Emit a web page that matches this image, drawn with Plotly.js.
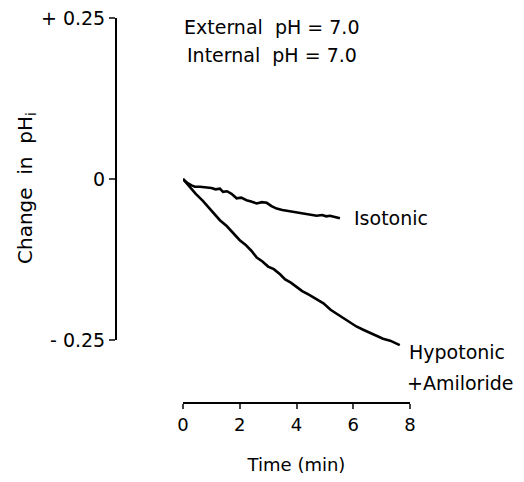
<!DOCTYPE html>
<html>
<head>
<meta charset="utf-8">
<script src="https://cdn.plot.ly/plotly-3.0.1.min.js"></script>
<style>html,body{margin:0;padding:0;background:#fff;}#chart{width:524px;height:482px;}</style>
</head>
<body>
<div id="chart"></div>
<script>
// Time (min) and change in pHi for each trace
const isoTime = [0, 0.15, 0.3, 0.42, 0.6, 0.8, 1.0, 1.15, 1.3, 1.41, 1.55, 1.71, 1.89, 2.05, 2.24, 2.4, 2.6, 2.78, 2.95, 3.12, 3.3, 3.5, 3.77, 4.0, 4.24, 4.45, 4.71, 4.9, 5.05, 5.18, 5.35, 5.53];
const isoChange = [0, -0.006, -0.010, -0.012, -0.012, -0.013, -0.014, -0.016, -0.015, -0.020, -0.019, -0.023, -0.030, -0.029, -0.033, -0.035, -0.038, -0.036, -0.037, -0.042, -0.046, -0.048, -0.050, -0.052, -0.054, -0.055, -0.057, -0.056, -0.058, -0.057, -0.059, -0.061];

const hypoTime = [0, 0.2, 0.45, 0.7, 0.9, 1.06, 1.3, 1.54, 1.75, 2.0, 2.2, 2.4, 2.6, 2.8, 3.0, 3.2, 3.42, 3.6, 3.8, 4.0, 4.2, 4.45, 4.71, 4.95, 5.2, 5.41, 5.65, 5.9, 6.11, 6.35, 6.6, 6.82, 7.05, 7.3, 7.5, 7.64];
const hypoChange = [0, -0.011, -0.023, -0.034, -0.044, -0.052, -0.064, -0.073, -0.083, -0.095, -0.102, -0.111, -0.122, -0.128, -0.136, -0.140, -0.148, -0.156, -0.161, -0.168, -0.174, -0.180, -0.187, -0.193, -0.203, -0.209, -0.215, -0.223, -0.229, -0.234, -0.239, -0.244, -0.248, -0.251, -0.255, -0.258];

const xTicks = [0, 2, 4, 6, 8];
const yTickVals = [-0.25, 0, 0.25];
const yTickText = ['- 0.25', '0', '+ 0.25'];

const W = 524, H = 482;
const px = v => v / W;
const py = v => 1 - v / H;

// visible y axis spans pixel rows 18..340 for +0.25..-0.25
const yTop = 18, yBot = 340;
const perPx = 0.5 / (yBot - yTop);
const dataTopPx = 0, dataBotPx = 420;
const dataRange = [-0.25 - (dataBotPx - yBot) * perPx, 0.25 + (yTop - dataTopPx) * perPx];

const font = 'DejaVu Sans, sans-serif';
const line = {color: '#000', width: 2.6};

const traces = [
  {x: isoTime, y: isoChange, mode: 'lines', line: line, xaxis: 'x', yaxis: 'y', hoverinfo: 'skip'},
  {x: hypoTime, y: hypoChange, mode: 'lines', line: line, xaxis: 'x', yaxis: 'y', hoverinfo: 'skip'},
  {x: [], y: [], mode: 'lines', xaxis: 'x', yaxis: 'y2', hoverinfo: 'skip'}
];

const layout = {
  width: W, height: H,
  margin: {l: 0, r: 0, t: 0, b: 0},
  paper_bgcolor: '#fff', plot_bgcolor: 'rgba(0,0,0,0)',
  showlegend: false,
  font: {family: font, color: '#000', size: 18},
  xaxis: {
    domain: [px(183), px(410)], anchor: 'free', position: py(403),
    range: [0, 8], tickvals: xTicks, ticks: 'outside', ticklen: 5, tickwidth: 2,
    showline: true, linewidth: 2, linecolor: '#000', showgrid: false, zeroline: false,
    tickfont: {size: 18, family: font}, fixedrange: true,
    title: {text: 'Time (min)', font: {size: 18, family: font}, standoff: 24}
  },
  yaxis: {
    domain: [py(dataBotPx), py(dataTopPx)], range: dataRange, anchor: 'free', position: px(116),
    visible: false, fixedrange: true
  },
  yaxis2: {
    domain: [py(yBot), py(yTop)], range: [-0.25, 0.25], anchor: 'free', position: px(116),
    tickvals: yTickVals, ticktext: yTickText, ticks: 'outside', ticklen: 6, tickwidth: 2,
    showline: true, linewidth: 2, linecolor: '#000', showgrid: false, zeroline: false,
    tickfont: {size: 19, family: font}, fixedrange: true
  },
  annotations: [
    {text: 'External  pH = 7.0', xref: 'paper', yref: 'paper', x: px(182), y: py(27), xanchor: 'left', yanchor: 'middle', showarrow: false, font: {size: 19}},
    {text: 'Internal  pH = 7.0', xref: 'paper', yref: 'paper', x: px(185), y: py(55), xanchor: 'left', yanchor: 'middle', showarrow: false, font: {size: 19}},
    {text: 'Isotonic', xref: 'paper', yref: 'paper', x: px(352), y: py(218), xanchor: 'left', yanchor: 'middle', showarrow: false, font: {size: 19}},
    {text: 'Hypotonic', xref: 'paper', yref: 'paper', x: px(407), y: py(352), xanchor: 'left', yanchor: 'middle', showarrow: false, font: {size: 19}},
    {text: '+Amiloride', xref: 'paper', yref: 'paper', x: px(405), y: py(383), xanchor: 'left', yanchor: 'middle', showarrow: false, font: {size: 19}},
    {text: 'Change  in  pH<sub>i</sub>', xref: 'paper', yref: 'paper', x: px(26), y: py(188), xanchor: 'center', yanchor: 'middle', textangle: -90, showarrow: false, font: {size: 20}}
  ]
};

Plotly.newPlot('chart', traces, layout, {staticPlot: true, displayModeBar: false});
</script>
</body>
</html>
